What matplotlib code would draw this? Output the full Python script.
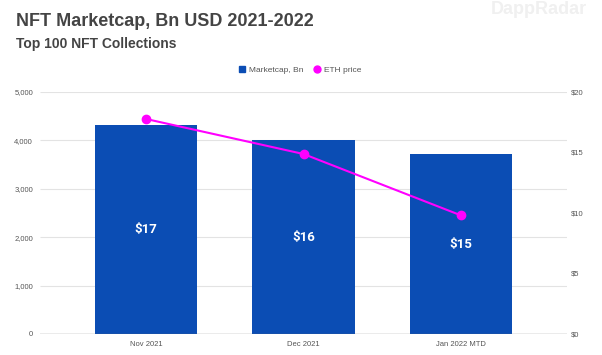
import matplotlib.pyplot as plt
import numpy as np

months = ['Nov 2021', 'Dec 2021', 'Jan 2022 MTD']
marketcap = [17.27, 16.03, 14.85]      # Bn USD, right axis
marketcap_labels = ['$17', '$16', '$15']
eth_price = [4442, 3719, 2452]          # left axis

left_ticks = [0, 1000, 2000, 3000, 4000, 5000]
right_ticks = [0, 5, 10, 15, 20]

bar_color = '#0b4db4'
line_color = '#ff00ff'
text_gray = '#444444'
tick_gray = '#555555'

plt.rcParams['font.family'] = ['Liberation Sans', 'DejaVu Sans']

fig = plt.figure(figsize=(6.02, 3.55), dpi=100)
ax = fig.add_axes([40/602, 1-334/355, 527/602, 242/355])
ax2 = ax.twinx()

x = np.arange(len(months))

# bars on the right axis, behind the line
ax2.set_ylim(0, 20)
ax2.set_yticks(right_ticks)
ax2.set_yticklabels(['$%d' % t for t in right_ticks])
# gridlines follow the left axis ticks, drawn in the right axis so bars cover them
scale = 20 / 5000
ax2.hlines([t * scale for t in left_ticks[1:]], -0.675, 2.675,
           color='#e3e3e3', lw=0.8, zorder=1)
bars = ax2.bar(x, marketcap, width=0.65, color=bar_color, zorder=2)
for b, lab in zip(bars, marketcap_labels):
    ax2.text(b.get_x() + b.get_width()/2, b.get_height()/2, lab,
             ha='center', va='center', color='white', fontsize=9.5,
             fontweight='bold', family='Roboto', zorder=3)
ax2.axhline(0, color='#666666', lw=0.9, zorder=3)

# line on the left axis, drawn on top
ax.set_zorder(ax2.get_zorder() + 1)
ax.patch.set_visible(False)
ax.plot(x, eth_price, color=line_color, lw=1.5, marker='o', ms=6, zorder=4)
ax.set_ylim(0, 5000)
ax.set_yticks(left_ticks)
ax.set_yticklabels(['{:,}'.format(t) for t in left_ticks])
ax.set_xlim(-0.675, 2.675)
ax2.set_xlim(-0.675, 2.675)
ax.set_xticks(x)
ax.set_xticklabels(months)

for a in (ax, ax2):
    for s in a.spines.values():
        s.set_visible(False)
    a.tick_params(length=0, labelsize=5.5, labelcolor=tick_gray)
ax.tick_params(axis='y', pad=5)
ax2.tick_params(axis='y', pad=3)
ax.tick_params(axis='x', pad=5)

fig.text(16/602, 1-22/355, 'NFT Marketcap, Bn USD 2021-2022', fontsize=13,
         fontweight='bold', color=text_gray, va='center')
fig.text(16/602, 1-44/355, 'Top 100 NFT Collections', fontsize=10,
         fontweight='bold', color=text_gray, va='center')
fig.text(0.975, 1-10/355, 'DappRadar', fontsize=13, fontweight='bold',
         color='#f0f0f0', ha='right', va='center', zorder=0)

handles = [plt.Line2D([], [], marker='s', ls='', color=bar_color, ms=5),
           plt.Line2D([], [], marker='o', ls='', color=line_color, ms=5)]
fig.legend(handles, ['Marketcap, Bn', 'ETH price'], loc='center',
           bbox_to_anchor=(300/602, 1-70/355), ncol=2, frameon=False,
           fontsize=6, handlelength=0.8, handletextpad=0.4, columnspacing=1.2,
           labelcolor='#555555')

fig.savefig('out.png', dpi=100)
